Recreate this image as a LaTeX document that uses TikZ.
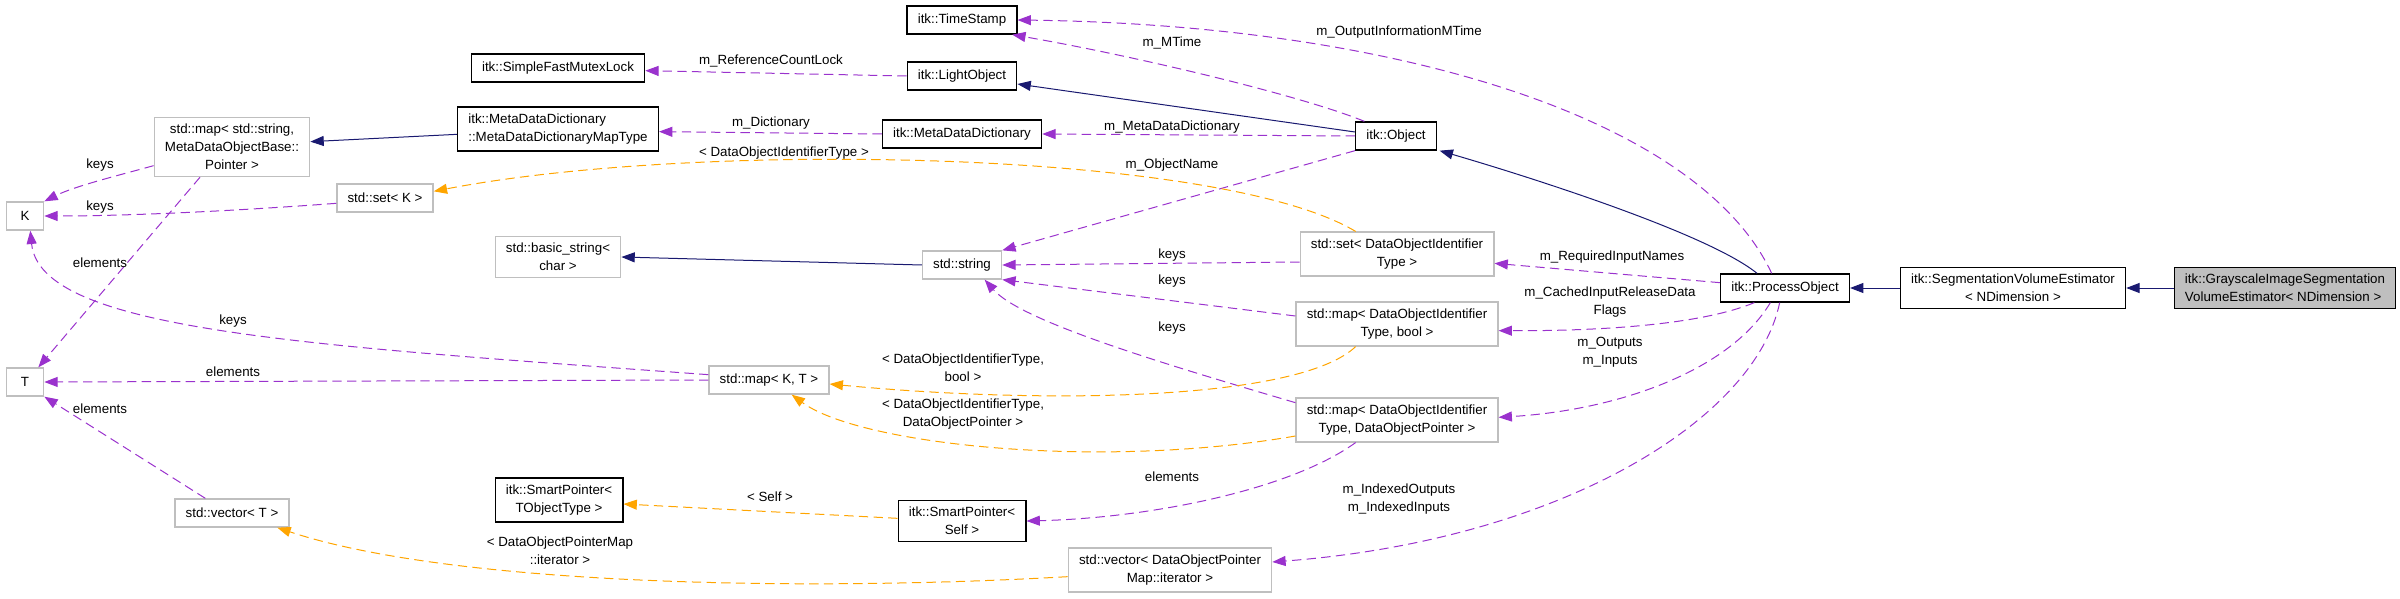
\documentclass[tikz,border=0pt]{standalone}
\usepackage{fontspec}
\setmainfont{Liberation Sans}
\usepackage{tikz}
\usepackage{xcolor}
\usetikzlibrary{calc}
\usetikzlibrary{positioning}
\usetikzlibrary{arrows.meta}

\definecolor{usepurple}{HTML}{9A32CD}
\definecolor{tplorange}{HTML}{FFA500}
\definecolor{inhblue}{HTML}{191970}
\definecolor{boxgray}{HTML}{BFBFBF}

\begin{document}
\begin{tikzpicture}[x=0.75pt,y=-0.75pt,
  cls/.style={draw=black,line width=1pt,fill=white,font=\fontsize{10}{13.5}\selectfont,align=center,inner xsep=8pt,inner ysep=5pt,minimum width=28pt,minimum height=21pt},
  ext/.style={cls,draw=boxgray},
  lbl/.style={font=\fontsize{10}{13.5}\selectfont,align=center,inner sep=0pt},
  inh/.style={draw=inhblue,line width=0.75pt,-{Triangle[length=10pt,width=7.5pt]}},
  use/.style={draw=usepurple,line width=0.75pt,dash pattern=on 7pt off 4pt,-{Triangle[length=10pt,width=7.5pt]}},
  tpl/.style={use,draw=tplorange}]
\useasboundingbox (0,0) rectangle (2400,599);

\node[cls] (ts) at (962,20) {itk::TimeStamp};
\node[cls] (lo) at (962,76) {itk::LightObject};
\node[cls] (sfml) at (558,68) {itk::SimpleFastMutexLock};
\node[cls] (mdd) at (962,134) {itk::MetaDataDictionary};
\node[cls,align=left] (mddmt) at (558,129) {itk::MetaDataDictionary\\::MetaDataDictionaryMapType};
\node[ext] (mapstr) at (232,147) {std::map< std::string,\\ MetaDataObjectBase::\\Pointer >};
\node[ext] (kk) at (25,216) {K};
\node[ext] (setk) at (385,198) {std::set< K >};
\node[ext] (bstr) at (558,257) {std::basic\_string<\\char >};
\node[cls] (obj) at (1396,136) {itk::Object};
\node[ext] (str) at (962,265) {std::string};
\node[ext] (setdoi) at (1397,254) {std::set< DataObjectIdentifier\\Type >};
\node[ext] (mapbool) at (1397,324) {std::map< DataObjectIdentifier\\Type, bool >};
\node[ext] (mapdop) at (1397,420) {std::map< DataObjectIdentifier\\Type, DataObjectPointer >};
\node[ext] (mapkt) at (769,380) {std::map< K, T >};
\node[ext] (tt) at (25,382) {T};
\node[ext] (vect) at (232,513) {std::vector< T >};
\node[cls] (sptobj) at (559,500) {itk::SmartPointer<\\TObjectType >};
\node[cls] (spself) at (962,521) {itk::SmartPointer<\\Self >};
\node[ext] (vecit) at (1170,570) {std::vector< DataObjectPointer\\Map::iterator >};
\node[cls] (po) at (1785,288) {itk::ProcessObject};
\node[cls] (sve) at (2013,288) {itk::SegmentationVolumeEstimator\\< NDimension >};
\node[cls,fill=boxgray,align=left] (gise) at (2285,288) {itk::GrayscaleImageSegmentation\\VolumeEstimator< NDimension >};

\draw[inh] (gise.west) -- (sve.east);
\draw[inh] (sve.west) -- (po.east);
\draw[inh] ([xshift=-21pt]po.north) .. controls (1710,235) and (1540,180) .. ([xshift=2pt]obj.south east);
\draw[inh] ([yshift=3pt]obj.west) -- ([yshift=-6pt]lo.east);
\draw[inh] ([yshift=-4pt]mddmt.west) -- ([yshift=4pt]mapstr.east);
\draw[inh] (str.west) -- (bstr.east);

\draw[use] (lo.west) -- ([yshift=-2pt]sfml.east);
\draw[use] (mdd.west) -- ([yshift=-2pt]mddmt.east);
\draw[use] ([xshift=7pt]obj.north west) .. controls (1300,95) and (1130,55) .. ([xshift=-4pt]ts.south east);
\draw[use] (obj.west) -- (mdd.east);
\draw[use] (obj.south west) -- (str.north east);
\draw[use] ([xshift=-10pt]po.north) .. controls (1700,120) and (1400,25) .. (ts.east);
\draw[use] ([yshift=4pt]po.west) -- ([yshift=-7pt]setdoi.east);
\draw[use] ([xshift=-23pt]po.south) .. controls (1700,325) and (1600,331) .. ([yshift=-5pt]mapbool.east);
\draw[use] ([xshift=-11pt]po.south) .. controls (1730,370) and (1620,410) .. ([yshift=2pt]mapdop.east);
\draw[use] ([xshift=-4pt]po.south) .. controls (1755,420) and (1560,540) .. ([yshift=6pt]vecit.east);
\draw[use] ([yshift=-6pt]setdoi.west) -- (str.east);
\draw[use] ([yshift=6pt]mapbool.west) -- (str.south east);
\draw[use] ([yshift=13pt]mapdop.west) .. controls (1150,360) and (1020,320) .. ([xshift=17pt]str.south);
\draw[use] ([xshift=-31pt]mapdop.south) .. controls (1290,490) and (1150,518) .. (spself.east);
\draw[use] ([yshift=-14pt]mapstr.west) .. controls (120,175) and (75,186) .. (kk.north east);
\draw[use] ([yshift=-4pt]setk.west) .. controls (220,212) and (120,216) .. (kk.east);
\draw[use] ([xshift=-24pt]mapstr.south) -- ([xshift=10pt]tt.north);
\draw[use] ([yshift=4pt]mapkt.west) .. controls (300,345) and (40,330) .. ([xshift=4pt]kk.south);
\draw[use] (mapkt.west) -- (tt.east);
\draw[use] ([xshift=-20pt]vect.north) -- (tt.south east);

\draw[tpl] ([xshift=-31pt]setdoi.north) .. controls (1220,150) and (700,140) .. ([yshift=5pt]setk.east);
\draw[tpl] ([xshift=-31pt]mapbool.south) .. controls (1300,400) and (1050,405) .. ([yshift=-3pt]mapkt.east);
\draw[tpl] ([yshift=-12pt]mapdop.west) .. controls (1100,470) and (860,445) .. ([xshift=17pt]mapkt.south);
\draw[tpl] ([yshift=2pt]spself.west) -- ([yshift=-3pt]sptobj.east);
\draw[tpl] ([yshift=-5pt]vecit.west) .. controls (800,592) and (450,585) .. ([xshift=34pt]vect.south);

\node[lbl] (l-lock) at (771,61) {m\_ReferenceCountLock};
\node[lbl] (l-dict) at (771,123) {m\_Dictionary};
\node[lbl] (l-mtime) at (1172,43) {m\_MTime};
\node[lbl] (l-outmtime) at (1399,32) {m\_OutputInformationMTime};
\node[lbl] (l-mddict) at (1172,127) {m\_MetaDataDictionary};
\node[lbl] (l-doit) at (784,153) {< DataObjectIdentifierType >};
\node[lbl] (l-objname) at (1172,165) {m\_ObjectName};
\node[lbl] (l-keys1) at (1172,255) {keys};
\node[lbl] (l-keys2) at (1172,281) {keys};
\node[lbl] (l-keys3) at (1172,328) {keys};
\node[lbl] (l-reqin) at (1612,257) {m\_RequiredInputNames};
\node[lbl] (l-cached) at (1610,302) {m\_CachedInputReleaseData\\Flags};
\node[lbl] (l-inout) at (1610,352) {m\_Outputs\\m\_Inputs};
\node[lbl] (l-indexed) at (1399,499) {m\_IndexedOutputs\\m\_IndexedInputs};
\node[lbl] (l-doibool) at (963,368) {< DataObjectIdentifierType,\\bool >};
\node[lbl] (l-doidop) at (963,414) {< DataObjectIdentifierType,\\DataObjectPointer >};
\node[lbl] (l-elem1) at (1172,477) {elements};
\node[lbl] (l-self) at (770,497) {< Self >};
\node[lbl] (l-mapit) at (560,551) {< DataObjectPointerMap\\::iterator >};
\node[lbl] (l-keys4) at (100,165) {keys};
\node[lbl] (l-keys5) at (100,207) {keys};
\node[lbl] (l-elem2) at (100,263) {elements};
\node[lbl] (l-keys6) at (233,321) {keys};
\node[lbl] (l-elem3) at (233,372) {elements};
\node[lbl] (l-elem4) at (100,409) {elements};

\end{tikzpicture}
\end{document}
